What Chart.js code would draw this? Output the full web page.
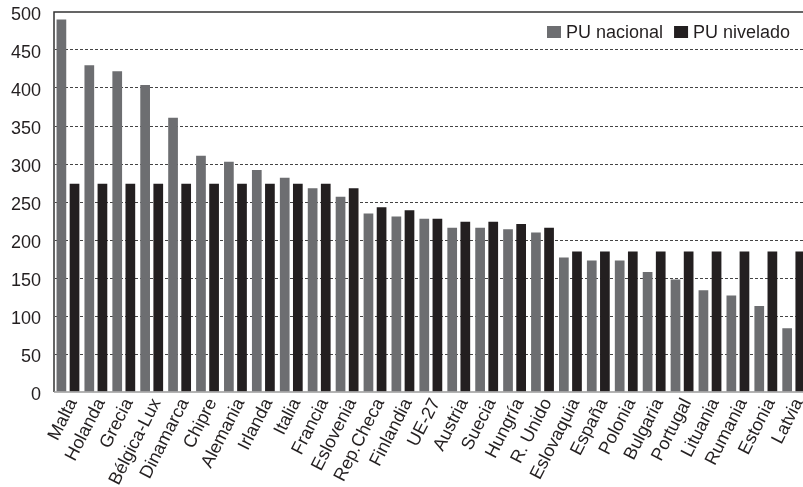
<!DOCTYPE html>
<html>
<head>
<meta charset="utf-8">
<script src="https://cdn.jsdelivr.net/npm/chart.js@4.4.0/dist/chart.umd.min.js"></script>
<style>
  html, body { margin: 0; padding: 0; background: #fff; overflow: hidden; }
  #wrap { width: 803px; height: 487px; overflow: hidden; }
  #box { width: 816px; height: 487px; }
</style>
</head>
<body>
<div id="wrap"><div id="box"><canvas id="chart"></canvas></div></div>
<script>
const paises = ["Malta", "Holanda", "Grecia", "Bélgica-Lux", "Dinamarca", "Chipre", "Alemania",
  "Irlanda", "Italia", "Francia", "Eslovenia", "Rep.Checa", "Finlandia", "UE-27", "Austria",
  "Suecia", "Hungría", "R. Unido", "Eslovaquia", "España", "Polonia", "Bulgaria", "Portugal",
  "Lituania", "Rumania", "Estonia", "Latvia"];
const puNacional = [490, 430, 422, 404, 361, 311, 303, 292, 282, 268, 257, 235, 231, 228, 216,
  216, 214, 210, 177, 173, 173, 158, 148, 134, 127, 113, 84];
const puNivelado = [274, 274, 274, 274, 274, 274, 274, 274, 274, 274, 268, 243, 239, 228, 224,
  224, 221, 216, 185, 185, 185, 185, 185, 185, 185, 185, 185];
const yTicks = [0, 50, 100, 150, 200, 250, 300, 350, 400, 450, 500];

const GRIS = "#6d6e71";
const NEGRO = "#231f20";
const FONT = "'Liberation Sans', Arial, sans-serif";

// leyenda dentro del area, arriba a la derecha
const leyenda = {
  id: "leyenda",
  afterDraw(chart) {
    const ctx = chart.ctx;
    ctx.save();
    ctx.font = "18px " + FONT;
    ctx.textBaseline = "middle";
    const y = 32;
    let x = 547;
    chart.data.datasets.forEach((ds, i) => {
      ctx.fillStyle = ds.backgroundColor;
      ctx.fillRect(x, y - 6, 14, 12);
      ctx.fillStyle = "#231f20";
      ctx.fillText(ds.label, x + 19, y + 1);
      x += 19 + ctx.measureText(ds.label).width + 11;
    });
    ctx.restore();
  }
};

// marco: linea superior y eje izquierdo
const marco = {
  id: "marco",
  afterDatasetsDraw(chart) {
    const { ctx, chartArea: a } = chart;
    ctx.save();
    ctx.strokeStyle = "#333";
    ctx.lineWidth = 1.5;
    ctx.beginPath();
    ctx.moveTo(a.left, a.bottom);
    ctx.lineTo(a.left, a.top);
    ctx.lineTo(a.right, a.top);
    ctx.stroke();
    ctx.strokeStyle = "#9a9a9a";
    ctx.lineWidth = 1.5;
    ctx.beginPath();
    ctx.moveTo(a.left, a.bottom);
    ctx.lineTo(a.right, a.bottom);
    ctx.stroke();
    ctx.restore();
  }
};

new Chart(document.getElementById("chart"), {
  type: "bar",
  data: {
    labels: paises,
    datasets: [
      { label: "PU nacional", data: puNacional, backgroundColor: GRIS },
      { label: "PU nivelado", data: puNivelado, backgroundColor: NEGRO }
    ]
  },
  options: {
    responsive: true,
    maintainAspectRatio: false,
    animation: false,
    datasets: { bar: { categoryPercentage: 0.94, barPercentage: 0.74 } },
    layout: { padding: { top: 12, right: 1, left: 0, bottom: 0 } },
    plugins: { legend: { display: false }, tooltip: { enabled: false } },
    scales: {
      x: {
        grid: { display: false, drawTicks: false },
        border: { display: false },
        ticks: {
          color: "#231f20",
          font: { family: FONT, size: 18 },
          minRotation: 63, maxRotation: 63,
          autoSkip: false, padding: 3, labelOffset: 5
        },
        afterFit(s) { s.height = 95; }
      },
      y: {
        min: 0, max: 500,
        afterBuildTicks(s) { s.ticks = yTicks.map(v => ({ value: v })); },
        grid: {
          color: (c) => (c.tick.value === 0 || c.tick.value === 500) ? "rgba(0,0,0,0)" : "#444",
          drawTicks: false, lineWidth: 1
        },
        border: { display: true, color: "rgba(0,0,0,0)", dash: [3, 2] },
        ticks: { color: "#231f20", font: { family: FONT, size: 18 }, padding: 13, labelOffset: 3 },
        afterFit(s) { s.width = 54; s.paddingTop = 0; }
      }
    }
  },
  plugins: [leyenda, marco]
});
</script>
</body>
</html>
